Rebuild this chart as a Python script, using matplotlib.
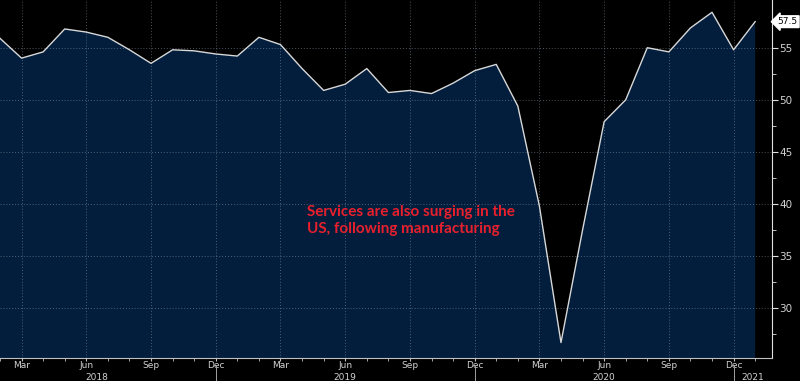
import numpy as np
import matplotlib
matplotlib.use("Agg")
import matplotlib.pyplot as plt
from matplotlib.transforms import blended_transform_factory

# US services PMI, monthly, Feb 2018 .. Jan 2021
months = ["2018-02", "2018-03", "2018-04", "2018-05", "2018-06", "2018-07", "2018-08",
          "2018-09", "2018-10", "2018-11", "2018-12", "2019-01", "2019-02", "2019-03",
          "2019-04", "2019-05", "2019-06", "2019-07", "2019-08", "2019-09", "2019-10",
          "2019-11", "2019-12", "2020-01", "2020-02", "2020-03", "2020-04", "2020-05",
          "2020-06", "2020-07", "2020-08", "2020-09", "2020-10", "2020-11", "2020-12",
          "2021-01"]
pmi = [55.9, 54.0, 54.6, 56.8, 56.5, 56.0, 54.8, 53.5, 54.8, 54.7, 54.4, 54.2,
       56.0, 55.3, 53.0, 50.9, 51.5, 53.0, 50.7, 50.9, 50.6, 51.6, 52.8, 53.4,
       49.4, 39.8, 26.7, 37.5, 47.9, 50.0, 55.0, 54.6, 56.9, 58.4, 54.8, 57.5]

month_ticks = ["Mar", "Jun", "Sep", "Dec", "Mar", "Jun", "Sep", "Dec",
               "Mar", "Jun", "Sep", "Dec"]
month_tick_pos = [1, 4, 7, 10, 13, 16, 19, 22, 25, 28, 31, 34]
year_labels = ["2018", "2019", "2020", "2021"]
year_label_pos = [4.5, 16.0, 28.0, 34.9]
year_sep_pos = [10, 22, 34]
y_major = [30, 35, 40, 45, 50, 55]
note = "Services are also surging in the\nUS, following manufacturing"

BG = "#000000"
FILL = "#021e3c"
TXT = "#d2d2d2"

x = np.arange(len(pmi))

fig = plt.figure(figsize=(8.0, 3.81), dpi=100, facecolor=BG)
ax = fig.add_axes([0.0, 0.0604, 0.965, 0.9396])
ax.set_facecolor(BG)

ax.fill_between(x, pmi, 20, color=FILL, zorder=1, linewidth=0)
ax.plot(x, pmi, color="#d8d8d8", lw=1.0, zorder=3)

ax.set_xlim(0.04, 35.78)
ax.set_ylim(25.22, 59.58)

# grid
ax.set_xticks(month_tick_pos)
ax.set_xticks(x, minor=True)
ax.set_yticks(y_major)
ax.set_yticks(np.arange(27.5, 60, 2.5), minor=True)
ax.grid(True, which="major", color="#8a98a8", alpha=0.55, lw=0.7,
        linestyle=(0, (1, 2)), zorder=2)

# axes styling
for s in ["left", "top"]:
    ax.spines[s].set_visible(False)
ax.spines["right"].set_color("#e0e0e0")
ax.spines["bottom"].set_color("#c0c0c0")
ax.yaxis.tick_right()
ax.tick_params(axis="y", which="both", colors="#e0e0e0", labelcolor=TXT,
               labelsize=7.5, length=4, pad=1, direction="out")
ax.tick_params(axis="y", which="minor", length=3)
ax.tick_params(axis="x", which="both", colors="#c0c0c0", labelcolor=TXT,
               labelsize=6.5, length=2.5, pad=0, direction="out")
ax.set_xticklabels(month_ticks)

trans = blended_transform_factory(ax.transData, ax.transAxes)
for lbl, p in zip(year_labels, year_label_pos):
    ax.text(p, -0.0555, lbl, transform=trans, ha="center", va="center",
            color=TXT, fontsize=6.5, clip_on=False)
for p in year_sep_pos:
    ax.plot([p, p], [-0.02, -0.07], transform=trans, color="#a0a0a0",
            lw=0.7, clip_on=False)

# last value tag
ax.annotate(f"{pmi[-1]:.1f}", xy=(1.0, pmi[-1]),
            xycoords=("axes fraction", "data"), xytext=(4, 0),
            textcoords="offset points", ha="left", va="center",
            fontsize=6.5, color="black",
            bbox=dict(boxstyle="larrow,pad=0.15", fc="white", ec="white"),
            annotation_clip=False)

ax.text(14.25, 38.4, note, color="#e8202d", fontsize=11, fontweight="bold",
        family="Lato", ha="left", va="center", linespacing=1.3, zorder=4)

fig.savefig("out.png", dpi=100, facecolor=BG)
